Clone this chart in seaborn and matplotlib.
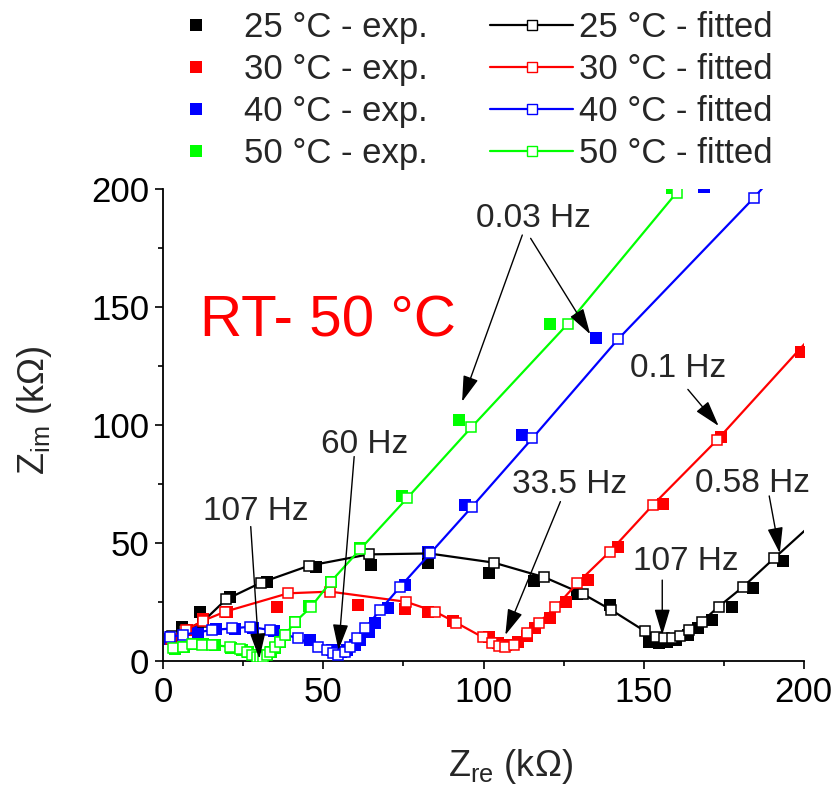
import matplotlib
matplotlib.use("Agg")
import matplotlib.pyplot as plt
import seaborn as sns
from matplotlib.lines import Line2D
from matplotlib.ticker import MultipleLocator

# ---- Nyquist data (kOhm): experimental points and equivalent-circuit fits ----
t25_exp_re = [2.5, 5.7, 11.5, 20.8, 32.3, 47.7, 64.8, 82.8, 101.6, 115.9, 129.2, 139.4,
              151.8, 154.8, 157.4, 160.1, 163.8, 167.0, 171.3, 177.7, 184.0, 193.6]
t25_exp_im = [10.0, 14.2, 20.5, 27.0, 33.3, 39.9, 40.6, 41.6, 37.3, 33.9, 28.5, 23.6,
              8.1, 7.4, 8.1, 8.8, 10.9, 13.7, 17.3, 22.6, 30.7, 42.3]
t25_fit_re = [2.8, 6.5, 12.3, 19.6, 30.5, 45.5, 64.1, 83.0, 103.2, 119.0, 131.2, 139.9,
              150.3, 153.7, 156.4, 158.8, 161.4, 164.2, 168.1, 173.4, 181.1, 190.7, 205.0]
t25_fit_im = [10.5, 13.0, 16.5, 26.0, 33.1, 40.3, 45.1, 45.5, 41.6, 35.4, 28.2, 21.5,
              12.6, 10.2, 9.5, 9.5, 10.5, 13.0, 16.5, 22.9, 31.4, 43.4, 61.0]

t30_exp_re = [2.5, 7.3, 12.5, 20.0, 35.4, 60.9, 75.5, 82.8, 90.6, 101.6, 104.5, 107.0,
              110.9, 113.5, 116.2, 120.6, 125.6, 132.5, 142.0, 156.1, 174.2, 199.0]
t30_exp_im = [9.0, 13.0, 17.6, 20.5, 22.6, 23.6, 21.8, 20.8, 17.0, 10.2, 7.5, 6.5,
              8.1, 10.5, 13.7, 18.0, 25.0, 34.2, 48.4, 66.5, 95.0, 131.1]
t30_fit_re = [2.5, 7.0, 12.5, 19.3, 39.0, 52.1, 75.8, 84.9, 91.5, 99.8, 102.6, 104.8,
              106.8, 109.4, 113.6, 117.2, 122.4, 129.2, 139.4, 152.9, 172.9, 210.0]
t30_fit_im = [9.0, 13.0, 17.0, 20.8, 28.6, 29.3, 25.0, 20.8, 16.1, 9.9, 7.6, 6.2,
              5.9, 6.7, 11.6, 16.1, 22.6, 32.8, 46.2, 66.1, 93.6, 149.0]

t40_exp_re = [2.0, 10.9, 16.5, 22.5, 28.0, 34.5, 45.8, 52.6, 55.5, 57.5, 59.9, 61.5,
              64.1, 66.2, 70.3, 75.5, 82.5, 94.3, 112.1, 135.2, 168.7]
t40_exp_im = [9.0, 12.3, 13.5, 13.5, 14.0, 12.5, 8.8, 4.5, 3.5, 4.5, 6.7, 8.8,
              12.3, 15.9, 22.2, 32.1, 46.0, 66.0, 95.8, 136.8, 201.0]
t40_fit_re = [2.0, 6.0, 15.1, 21.4, 27.1, 33.3, 42.0, 48.4, 51.1, 53.1, 54.7, 56.8,
              58.3, 60.4, 63.0, 67.7, 74.0, 83.4, 96.4, 115.2, 142.0, 184.3, 190.0]
t40_fit_im = [10.0, 11.0, 13.0, 13.7, 14.4, 13.0, 9.5, 5.9, 4.5, 3.1, 2.4, 3.8,
              5.9, 9.5, 13.7, 21.5, 31.4, 45.6, 65.3, 94.3, 136.4, 196.2, 205.0]

t50_exp_re = [3.5, 6.5, 9.5, 12.5, 16.0, 21.0, 24.5, 26.5, 28.0, 29.5, 30.5, 31.5,
              32.5, 33.5, 35.0, 36.5, 38.0, 41.0, 45.5, 52.3, 61.5, 74.5, 92.2, 120.8, 158.8]
t50_exp_im = [5.0, 6.0, 7.0, 7.0, 6.5, 5.5, 4.5, 3.5, 2.5, 1.5, 1.2, 1.5,
              2.5, 3.5, 5.5, 8.0, 11.0, 16.5, 23.0, 33.5, 48.0, 69.9, 102.1, 142.9, 200.5]
t50_fit_re = [3.1, 6.3, 8.9, 12.0, 15.1, 20.8, 24.0, 26.1, 27.6, 29.2, 30.2, 31.2,
              32.3, 33.3, 34.9, 36.3, 38.0, 41.2, 46.0, 52.3, 61.5, 76.1, 96.2, 126.3, 160.3]
t50_fit_im = [5.3, 5.7, 7.1, 6.7, 6.7, 5.9, 4.8, 3.8, 2.4, 1.7, 1.5, 1.7,
              2.4, 3.8, 5.7, 8.1, 10.9, 16.5, 22.6, 33.5, 47.3, 68.9, 99.0, 142.9, 198.6]

temps = ["25 °C", "30 °C", "40 °C", "50 °C"]
colors = ["#000000", "#ff0000", "#0000ff", "#00ff00"]
exp_sets = [(t25_exp_re, t25_exp_im), (t30_exp_re, t30_exp_im),
            (t40_exp_re, t40_exp_im), (t50_exp_re, t50_exp_im)]
fit_sets = [(t25_fit_re, t25_fit_im), (t30_fit_re, t30_fit_im),
            (t40_fit_re, t40_fit_im), (t50_fit_re, t50_fit_im)]

# frequency annotations: label, text position, list of (arrow start, arrow tip)
freq_labels = ["0.03 Hz", "0.1 Hz", "0.58 Hz", "107 Hz", "33.5 Hz", "60 Hz", "107 Hz"]
freq_text_xy = [(115.5, 184.0), (160.8, 120.3), (184.0, 71.6), (163.0, 38.5),
                (126.8, 71.1), (62.7, 88.1), (29.0, 59.7)]
freq_arrows = [[((112.1, 180.6), (93.3, 109.9)), ((114.7, 179.2), (133.3, 138.5))],
               [((163.8, 115.1), (173.4, 99.6))],
               [((189.2, 69.9), (192.5, 45.6))],
               [((155.8, 34.2), (155.8, 10.9))],
               [((124.0, 67.5), (106.8, 10.9))],
               [((59.6, 86.6), (54.7, 4.5))],
               [((27.3, 56.9), (30.0, 0.8))]]

sns.set_theme(style="ticks")
plt.rcParams["font.family"] = ["Liberation Sans", "DejaVu Sans"]
plt.rcParams["mathtext.fontset"] = "custom"
plt.rcParams["mathtext.rm"] = "Liberation Sans"
plt.rcParams["mathtext.it"] = "Liberation Sans:italic"
plt.rcParams["mathtext.bf"] = "Liberation Sans:bold"

W, H = 839, 791
fig = plt.figure(figsize=(W / 100, H / 100), dpi=100)
x0, x1, y0, y1 = 163.3, 803.8, 189.3, 660.7
ax = fig.add_axes([x0 / W, 1 - y1 / H, (x1 - x0) / W, (y1 - y0) / H])

for (xr, yi), c in zip(exp_sets, colors):
    sns.scatterplot(x=xr, y=yi, ax=ax, marker="s", s=85, color=c,
                    linewidth=0, zorder=2, legend=False)
for (xr, yi), c in zip(fit_sets, colors):
    sns.lineplot(x=xr, y=yi, ax=ax, sort=False, estimator=None, color=c, lw=1.6,
                 marker="s", ms=6.8, mfc="white", mec=c, mew=1.1, zorder=3,
                 legend=False)

ax.set_xlim(0, 200)
ax.set_ylim(0, 200)
ax.xaxis.set_major_locator(MultipleLocator(50))
ax.xaxis.set_minor_locator(MultipleLocator(25))
ax.yaxis.set_major_locator(MultipleLocator(50))
ax.yaxis.set_minor_locator(MultipleLocator(25))
ax.tick_params(which="major", direction="out", length=6, width=1.2, labelsize=25,
               color="black", labelcolor="black")
ax.tick_params(which="minor", direction="out", length=3.5, width=1.2, color="black")
ax.tick_params(axis="x", pad=5)
ax.tick_params(axis="y", pad=4)
sns.despine(ax=ax)
for s in ("left", "bottom"):
    ax.spines[s].set_linewidth(1.3)
    ax.spines[s].set_color("black")
ax.set_xlabel("")
ax.set_ylabel("")

fig.text(510 / W, 1 - 767 / H, r"Z$_{\mathrm{re}}$ (kΩ)", fontsize=26,
         ha="center", va="center")
fig.text(35 / W, 1 - 410 / H, r"Z$_{\mathrm{im}}$ (kΩ)", fontsize=26,
         rotation=90, ha="center", va="center")

ax.text(51.5, 137.5, "RT- 50 °C", color="#ff0000", fontsize=42,
        ha="center", va="baseline")

for lab, (tx, ty), arrows in zip(freq_labels, freq_text_xy, freq_arrows):
    ax.text(tx, ty, lab, fontsize=24, ha="center", va="baseline", zorder=5)
    for start, tip in arrows:
        ax.annotate("", xy=tip, xytext=start,
                    arrowprops=dict(arrowstyle="-|>,head_length=0.8,head_width=0.24",
                                    mutation_scale=20, color="black", lw=1.0,
                                    shrinkA=0, shrinkB=0), zorder=5)

handles, labels = [], []
for t, c in zip(temps, colors):
    handles.append(Line2D([], [], ls="none", marker="s", ms=9, mfc=c, mec=c, mew=0))
    labels.append(f"{t} - exp.")
for t, c in zip(temps, colors):
    handles.append(Line2D([], [], color=c, lw=1.6, marker="s", ms=6.5, mfc="white",
                          mec=c, mew=1.0))
    labels.append(f"{t} - fitted")
fig.legend(handles, labels, ncol=2, loc="upper left",
           bbox_to_anchor=(154 / W, 1 - 11 / H), bbox_transform=fig.transFigure,
           frameon=False, fontsize=25, handlelength=2.4, handletextpad=0.18,
           columnspacing=1.8, labelspacing=0.26, borderpad=0, borderaxespad=0,
           markerscale=1.0)

fig.savefig("out.png", dpi=100)
